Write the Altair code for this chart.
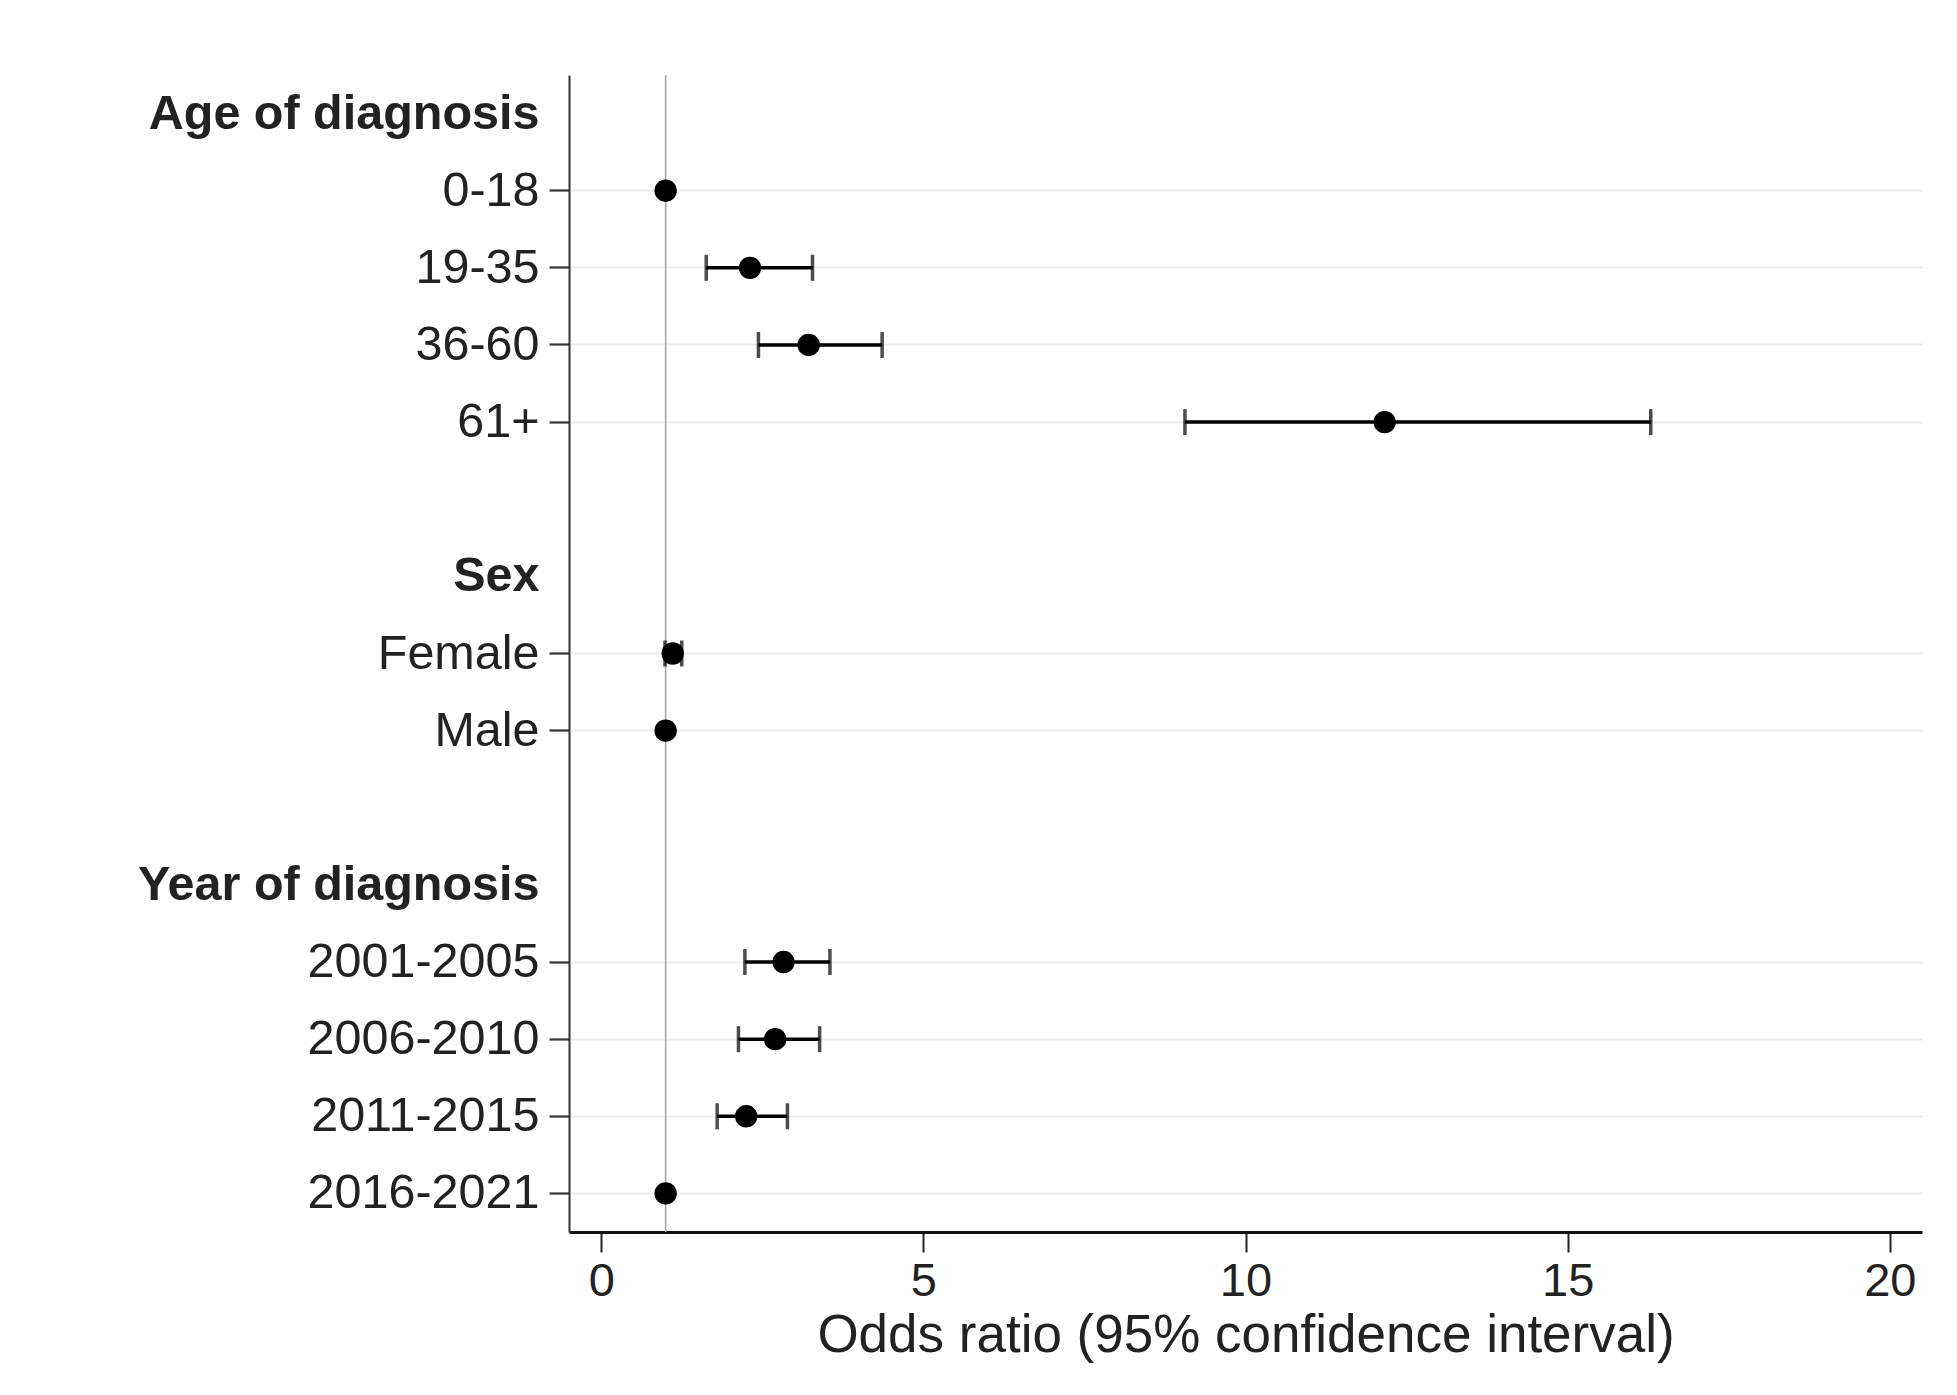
import json
import altair as alt
import pandas as pd

# ---- data ----
row_labels = ["Age of diagnosis", "0-18", "19-35", "36-60", "61+", " ",
              "Sex", "Female", "Male", "  ",
              "Year of diagnosis", "2001-2005", "2006-2010", "2011-2015", "2016-2021"]
headers = ["Age of diagnosis", "Sex", "Year of diagnosis"]
blanks = [" ", "  "]

est_labels = ["0-18", "19-35", "36-60", "61+", "Female", "Male",
              "2001-2005", "2006-2010", "2011-2015", "2016-2021"]
odds_ratio = [1.0, 2.31, 3.22, 12.16, 1.11, 1.0, 2.83, 2.70, 2.25, 1.0]
ci_low = [None, 1.63, 2.44, 9.06, 0.99, None, 2.23, 2.13, 1.80, None]
ci_high = [None, 3.28, 4.36, 16.29, 1.25, None, 3.55, 3.39, 2.89, None]
reference_value = [1.0]
x_ticks = [0, 5, 10, 15, 20]

df = pd.DataFrame({"label": est_labels, "or": odds_ratio, "lo": ci_low, "hi": ci_high})
df_ci = df.dropna()
df_ref = pd.DataFrame({"ref": reference_value})

FONT = "Liberation Sans"
FS = 47
YFS = 48.5

hdr_test = "indexof(%s, datum.value) >= 0" % json.dumps(headers)
hide_test = "indexof(%s, datum.value) >= 0" % json.dumps(headers + blanks)

x_scale = alt.Scale(domain=[-0.5, 20.5], nice=False, zero=False)
y_scale = alt.Scale(domain=row_labels, type="band", paddingInner=0, paddingOuter=0)

y_axis = alt.Axis(
    title=None,
    labelFont=FONT, labelFontSize=YFS, labelColor="#222222",
    labelFontWeight={"condition": {"test": hdr_test, "value": "bold"}, "value": "normal"},
    labelPadding=10, labelLimit=0,
    tickSize=20, tickWidth=2.2, tickColor="#333333",
    tickOpacity={"condition": {"test": hide_test, "value": 0}, "value": 1},
    domainColor="#333333", domainWidth=2,
    grid=True, gridColor="#ececec", gridWidth=2,
    gridOpacity={"condition": {"test": hide_test, "value": 0}, "value": 1},
)
x_axis = alt.Axis(
    title="Odds ratio (95% confidence interval)",
    values=x_ticks, grid=False,
    labelFont=FONT, labelFontSize=FS, labelColor="#222222", labelPadding=6,
    titleFont=FONT, titleFontSize=53, titleFontWeight="normal", titleColor="#222222",
    titlePadding=5,
    tickSize=20, tickWidth=2, tickColor="#222222",
    domainColor="#111111", domainWidth=3,
)

ref = alt.Chart(df_ref).mark_rule(color="#a8a8a8", strokeWidth=1.6).encode(
    x=alt.X("ref:Q", scale=x_scale, axis=x_axis)
)

base = alt.Chart(df).encode(
    y=alt.Y("label:N", scale=y_scale, axis=y_axis, sort=row_labels)
)
ci_base = alt.Chart(df_ci).encode(
    y=alt.Y("label:N", scale=y_scale, axis=y_axis, sort=row_labels)
)

bars = ci_base.mark_rule(color="black", strokeWidth=3.5).encode(
    x=alt.X("lo:Q", scale=x_scale, axis=x_axis), x2="hi:Q"
)
cap_lo = ci_base.mark_tick(color="black", thickness=3.5, size=26).encode(
    x=alt.X("lo:Q", scale=x_scale, axis=x_axis)
)
cap_hi = ci_base.mark_tick(color="black", thickness=3.5, size=26).encode(
    x=alt.X("hi:Q", scale=x_scale, axis=x_axis)
)
points = base.mark_point(filled=True, color="black", opacity=1, size=500, shape="circle").encode(
    x=alt.X("or:Q", scale=x_scale, axis=x_axis)
)

chart = alt.layer(ref, bars, cap_lo, cap_hi, points).properties(
    width=1353, height=1157,
    autosize=alt.AutoSizeParams(type="none"),
    padding={"left": 569, "top": 75, "right": 35, "bottom": 163},
    background="white",
).configure_view(stroke=None)

chart.save("out.html", embed_options={"renderer": "svg", "actions": False})
